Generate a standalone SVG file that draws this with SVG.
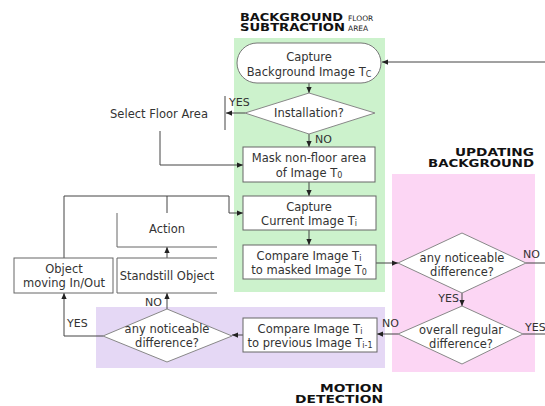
<svg xmlns="http://www.w3.org/2000/svg" width="545" height="406" viewBox="0 0 545 406">
<defs>
<marker id="ah" viewBox="0 0 8 8" refX="8" refY="4" markerWidth="6" markerHeight="6" orient="auto" markerUnits="userSpaceOnUse">
<path d="M0,0.5 L8,4 L0,7.5 z" fill="#222"/>
</marker>
<style>
.t{font-family:"DejaVu Sans",Verdana,sans-serif;font-size:11.5px;fill:#333;text-anchor:middle}
.l{font-family:"DejaVu Sans",Verdana,sans-serif;font-size:11px;fill:#333}
.h{font-family:"DejaVu Sans",Verdana,sans-serif;font-weight:bold;font-size:11px;fill:#111}
.s{font-family:"DejaVu Sans",Verdana,sans-serif;font-size:7.5px;fill:#222}
.box{fill:#fff;stroke:#666;stroke-width:1}
.dia{fill:#fff;stroke:#888;stroke-width:1}
.c{fill:none;stroke:#444;stroke-width:1}
.ca{fill:none;stroke:#444;stroke-width:1;marker-end:url(#ah)}
.sub{font-size:8px}
</style>
</defs>
<rect width="545" height="406" fill="#fff"/>
<!-- areas -->
<rect id="area-bg" x="234" y="38" width="151" height="254" fill="#ccf2cc"/>
<rect id="area-upd" x="392" y="174" width="143" height="198" fill="#fcd6f4"/>
<rect id="area-mot" x="96" y="307" width="289" height="61" fill="#e5d8f5"/>
<!-- titles -->
<text class="h" x="240" y="21" textLength="103" lengthAdjust="spacingAndGlyphs">BACKGROUND</text>
<text class="s" x="348" y="21">FLOOR</text>
<text class="h" x="240" y="31" textLength="105" lengthAdjust="spacingAndGlyphs">SUBTRACTION</text>
<text class="s" x="348" y="31">AREA</text>
<text class="h" x="455" y="156" textLength="79" lengthAdjust="spacingAndGlyphs">UPDATING</text>
<text class="h" x="428" y="167" textLength="106" lengthAdjust="spacingAndGlyphs">BACKGROUND</text>
<text class="h" x="320" y="392" textLength="63" lengthAdjust="spacingAndGlyphs">MOTION</text>
<text class="h" x="295" y="403" textLength="88" lengthAdjust="spacingAndGlyphs">DETECTION</text>
<!-- connectors -->
<g id="connectors">
<path class="ca" d="M545,62 H382"/>
<path class="ca" d="M309,83 V93"/>
<path class="ca" d="M245,113 H226"/>
<path class="c" d="M225,96 V130"/>
<path class="ca" d="M160,131 V165 H243"/>
<path class="ca" d="M309,134 V147"/>
<path class="ca" d="M309,182 V196"/>
<path class="ca" d="M309,230 V245"/>
<path class="ca" d="M376,263 H398"/>
<path class="c" d="M526,263 H545"/>
<path class="ca" d="M462,293 V306"/>
<path class="c" d="M523,334 H545"/>
<path class="ca" d="M398,334 H377"/>
<path class="ca" d="M243,335 H232"/>
<path class="ca" d="M103,336 H64 V293"/>
<path class="ca" d="M167,309 V293"/>
<path class="ca" d="M167,258 V247"/>
<path class="c" d="M167,213 V196" stroke="#999"/>
<path class="ca" d="M64,258 V196 H229 V213 H243"/>
</g>
<!-- labels -->
<text class="l" x="229" y="106">YES</text>
<text class="l" x="315" y="143">NO</text>
<text class="l" x="523" y="258">NO</text>
<text class="l" x="459" y="302" text-anchor="end" font-size="10">YES</text>
<text class="l" x="525" y="331" font-size="10">YES</text>
<text class="l" x="382" y="327">NO</text>
<text class="l" x="67" y="327">YES</text>
<text class="l" x="145" y="306">NO</text>
<!-- nodes -->
<g id="capture-bg">
<rect x="237" y="43" width="144" height="40" rx="20" ry="20" fill="#fff" stroke="#777"/>
<text class="t" x="309" y="61">Capture</text>
<text class="t" x="309" y="76">Background Image T<tspan class="sub" dy="1">C</tspan></text>
</g>
<g id="installation">
<polygon class="dia" points="309,93 375,113 309,134 245,113"/>
<text class="t" x="309" y="117">Installation?</text>
</g>
<g id="select-floor">
<text class="t" x="159" y="118">Select Floor Area</text>
</g>
<g id="mask">
<rect class="box" x="243" y="147" width="132" height="35"/>
<text class="t" x="309" y="162">Mask non-floor area</text>
<text class="t" x="309" y="177">of Image T<tspan class="sub" dy="1">0</tspan></text>
</g>
<g id="capture-cur">
<rect class="box" x="243" y="196" width="133" height="34"/>
<text class="t" x="309" y="211">Capture</text>
<text class="t" x="309" y="225">Current Image T<tspan class="sub" dy="1">i</tspan></text>
</g>
<g id="compare-masked">
<rect class="box" x="243" y="245" width="133" height="34"/>
<text class="t" x="309" y="260">Compare Image T<tspan class="sub" dy="1">i</tspan></text>
<text class="t" x="309" y="274">to masked Image T<tspan class="sub" dy="1">0</tspan></text>
</g>
<g id="diff1">
<polygon class="dia" points="462,233 526,263 462,293 398,263"/>
<text class="t" x="462" y="262">any noticeable</text>
<text class="t" x="462" y="276">difference?</text>
</g>
<g id="regular">
<polygon class="dia" points="462,306 523,334 462,364 398,334"/>
<text class="t" x="461" y="334">overall regular</text>
<text class="t" x="461" y="348">difference?</text>
</g>
<g id="compare-prev">
<rect class="box" x="243" y="318" width="134" height="34"/>
<text class="t" x="310" y="333">Compare Image T<tspan class="sub" dy="1">i</tspan></text>
<text class="t" x="310" y="347">to previous Image T<tspan class="sub" dy="1">i-1</tspan></text>
</g>
<g id="diff2">
<polygon class="dia" points="167,309 232,336 167,362 103,336"/>
<text class="t" x="167" y="333">any noticeable</text>
<text class="t" x="167" y="347">difference?</text>
</g>
<g id="object-moving">
<rect class="box" x="14" y="258" width="99" height="35"/>
<text class="t" x="64" y="273">Object</text>
<text class="t" x="64" y="287">moving In/Out</text>
</g>
<g id="standstill">
<path d="M217,258 H117 V293 H217" fill="#fff" stroke="#666"/>
<text class="t" x="167" y="280">Standstill Object</text>
</g>
<g id="action">
<path d="M117,213 V247 H217" fill="none" stroke="#666"/>
<text class="t" x="167" y="233">Action</text>
</g>
</svg>
